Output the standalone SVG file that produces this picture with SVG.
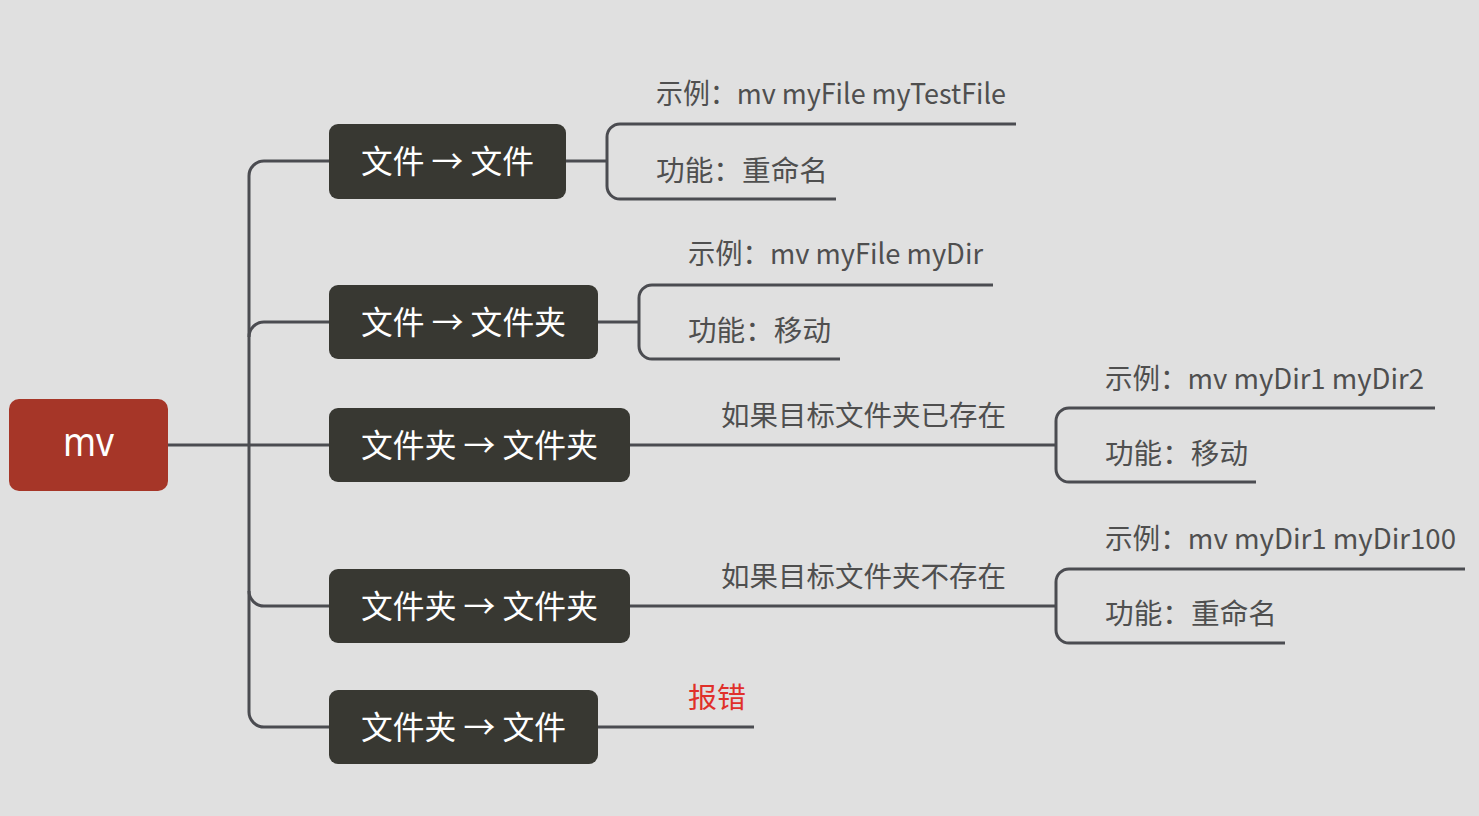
<svg xmlns="http://www.w3.org/2000/svg" width="1479" height="816" viewBox="0 0 1479 816">
<style>
.bg{fill:#e0e0e0}
.root{fill:#a63628}
.node{fill:#383832}
.nt{fill:#ffffff;font-family:"Noto Sans CJK SC","Noto Sans",sans-serif;font-size:32px}
.rt{fill:#ffffff;font-family:"Noto Sans","Noto Sans CJK SC",sans-serif;font-size:40px}
.lt{fill:#4f4f4f;font-family:"Noto Sans CJK SC","Noto Sans",sans-serif;font-size:28px}
.err{fill:#e0302a;font-family:"Noto Sans CJK SC",sans-serif;font-size:28px}
.ln{fill:none;stroke:#4b4c51;stroke-width:3;stroke-linecap:butt;stroke-linejoin:round}
</style>
<rect class="bg" x="0" y="0" width="1479" height="816"/>
<g id="connectors">
<path class="ln" d="M168,445 H329"/>
<path class="ln" d="M329,161 H264 A15,15 0 0 0 249,176 V712 A15,15 0 0 0 264,727 H329"/>
<path class="ln" d="M329,322 H264 A15,15 0 0 0 249,337"/>
<path class="ln" d="M329,606 H264 A15,15 0 0 1 249,591"/>
<path class="ln" d="M566,161 H607"/>
<path class="ln" d="M1016,124 H620 A13,13 0 0 0 607,137 V186 A13,13 0 0 0 620,199 H836"/>
<path class="ln" d="M598,322 H639"/>
<path class="ln" d="M993,285 H652 A13,13 0 0 0 639,298 V346 A13,13 0 0 0 652,359 H840"/>
<path class="ln" d="M630,445 H1056"/>
<path class="ln" d="M1435,408 H1069 A13,13 0 0 0 1056,421 V469 A13,13 0 0 0 1069,482 H1256"/>
<path class="ln" d="M630,606 H1056"/>
<path class="ln" d="M1465,569 H1069 A13,13 0 0 0 1056,582 V630 A13,13 0 0 0 1069,643 H1285"/>
<path class="ln" d="M598,727 H754"/>
</g>
<g id="root">
<rect class="root" x="9" y="399" width="159" height="92" rx="10"/>
<text class="rt" x="63" y="456" textLength="51" lengthAdjust="spacingAndGlyphs">mv</text>
</g>
<g id="n1">
<rect class="node" x="329" y="124" width="237" height="75" rx="9"/>
<text class="nt" x="361" y="173" textLength="173" lengthAdjust="spacingAndGlyphs">文件 → 文件</text>
</g>
<g id="n1a"><text class="lt" x="656" y="104" textLength="350" lengthAdjust="spacingAndGlyphs">示例：mv myFile myTestFile</text></g>
<g id="n1b"><text class="lt" x="656" y="181" textLength="172" lengthAdjust="spacingAndGlyphs">功能：重命名</text></g>
<g id="n2">
<rect class="node" x="329" y="285" width="269" height="74" rx="9"/>
<text class="nt" x="361" y="334" textLength="205" lengthAdjust="spacingAndGlyphs">文件 → 文件夹</text>
</g>
<g id="n2a"><text class="lt" x="688" y="264" textLength="295" lengthAdjust="spacingAndGlyphs">示例：mv myFile myDir</text></g>
<g id="n2b"><text class="lt" x="688" y="341" textLength="143" lengthAdjust="spacingAndGlyphs">功能：移动</text></g>
<g id="n3">
<rect class="node" x="329" y="408" width="301" height="74" rx="9"/>
<text class="nt" x="361" y="457" textLength="237" lengthAdjust="spacingAndGlyphs">文件夹 → 文件夹</text>
</g>
<g id="c3label"><text class="lt" x="721" y="426" textLength="285" lengthAdjust="spacingAndGlyphs">如果目标文件夹已存在</text></g>
<g id="n3a"><text class="lt" x="1105" y="389" textLength="319" lengthAdjust="spacingAndGlyphs">示例：mv myDir1 myDir2</text></g>
<g id="n3b"><text class="lt" x="1105" y="464" textLength="143" lengthAdjust="spacingAndGlyphs">功能：移动</text></g>
<g id="n4">
<rect class="node" x="329" y="569" width="301" height="74" rx="9"/>
<text class="nt" x="361" y="618" textLength="237" lengthAdjust="spacingAndGlyphs">文件夹 → 文件夹</text>
</g>
<g id="c4label"><text class="lt" x="721" y="587" textLength="285" lengthAdjust="spacingAndGlyphs">如果目标文件夹不存在</text></g>
<g id="n4a"><text class="lt" x="1105" y="549" textLength="351" lengthAdjust="spacingAndGlyphs">示例：mv myDir1 myDir100</text></g>
<g id="n4b"><text class="lt" x="1105" y="624" textLength="172" lengthAdjust="spacingAndGlyphs">功能：重命名</text></g>
<g id="n5">
<rect class="node" x="329" y="690" width="269" height="74" rx="9"/>
<text class="nt" x="361" y="739" textLength="205" lengthAdjust="spacingAndGlyphs">文件夹 → 文件</text>
</g>
<g id="n5a"><text class="err" x="688" y="708" textLength="58" lengthAdjust="spacingAndGlyphs">报错</text></g>
</svg>
